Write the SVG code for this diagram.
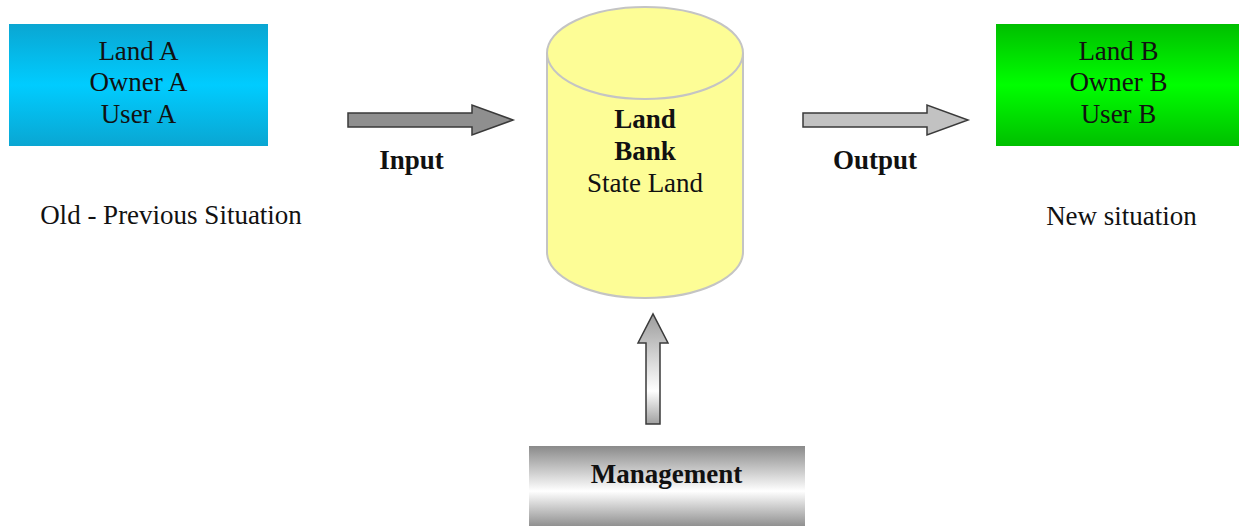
<svg xmlns="http://www.w3.org/2000/svg" width="1239" height="526" viewBox="0 0 1239 526">
  <defs>
    <linearGradient id="gCyan" x1="0" y1="0" x2="0" y2="1">
      <stop offset="0" stop-color="#0aa6d2"/>
      <stop offset="0.5" stop-color="#00ccff"/>
      <stop offset="1" stop-color="#0aa6d2"/>
    </linearGradient>
    <linearGradient id="gGreen" x1="0" y1="0" x2="0" y2="1">
      <stop offset="0" stop-color="#00bf00"/>
      <stop offset="0.5" stop-color="#00ff00"/>
      <stop offset="1" stop-color="#00bf00"/>
    </linearGradient>
    <linearGradient id="gMgmt" x1="0" y1="0" x2="0" y2="1">
      <stop offset="0" stop-color="#8a8a8a"/>
      <stop offset="0.55" stop-color="#ffffff"/>
      <stop offset="1" stop-color="#8a8a8a"/>
    </linearGradient>
    <linearGradient id="gUp" x1="0" y1="0" x2="0" y2="1">
      <stop offset="0" stop-color="#9c9c9c"/>
      <stop offset="0.7" stop-color="#ffffff"/>
      <stop offset="1" stop-color="#a0a0a0"/>
    </linearGradient>
  </defs>
  <style>
    .t { font-family: "Liberation Serif", "Times New Roman", serif; font-size: 27px; fill: #111; text-anchor: middle; }
    .b { font-weight: bold; }
    .arrow { stroke: #3a3a3a; stroke-width: 1.5; stroke-linejoin: miter; }
  </style>

  <rect width="1239" height="526" fill="#ffffff"/>

  <!-- old situation -->
  <g id="landA">
    <rect x="9" y="24" width="259" height="122" fill="url(#gCyan)"/>
    <text class="t" x="138.5" y="60">Land A</text>
    <text class="t" x="138.5" y="91">Owner A</text>
    <text class="t" x="138.5" y="123">User A</text>
  </g>
  <g id="oldLabel">
    <text class="t" x="171" y="224">Old - Previous Situation</text>
  </g>

  <!-- land bank store -->
  <g id="landBank">
    <path d="M547,53 L547,252 A98,46 0 0 0 743,252 L743,53" fill="#fdfd96" stroke="#c4c4c4" stroke-width="2"/>
    <ellipse cx="645" cy="53" rx="98" ry="46" fill="#fdfd96" stroke="#c4c4c4" stroke-width="2"/>
    <text class="t b" x="645" y="128">Land</text>
    <text class="t b" x="645" y="160">Bank</text>
    <text class="t" x="645" y="192">State Land</text>
  </g>

  <!-- new situation -->
  <g id="landB">
    <rect x="996" y="24" width="245" height="122" fill="url(#gGreen)"/>
    <text class="t" x="1118.5" y="60">Land B</text>
    <text class="t" x="1118.5" y="91">Owner B</text>
    <text class="t" x="1118.5" y="123">User B</text>
  </g>
  <g id="newLabel">
    <text class="t" x="1121.5" y="225">New situation</text>
  </g>

  <!-- management -->
  <g id="management">
    <rect x="529" y="446" width="276" height="82" fill="url(#gMgmt)"/>
    <text class="t b" x="666.5" y="483">Management</text>
  </g>

  <!-- flows -->
  <g id="connectors">
    <path class="arrow" d="M348,113 L472,113 L472,105 L513,120 L472,135 L472,127 L348,127 Z" fill="#8f8f8f"/>
    <text class="t b" x="411.5" y="169">Input</text>
    <path class="arrow" d="M803,113 L927,113 L927,105 L968,120 L927,135 L927,127 L803,127 Z" fill="#c2c2c2"/>
    <text class="t b" x="875" y="169">Output</text>
    <path class="arrow" d="M646,424 L646,343 L638,343 L653,314 L668,343 L660,343 L660,424 Z" fill="url(#gUp)"/>
  </g>
</svg>
